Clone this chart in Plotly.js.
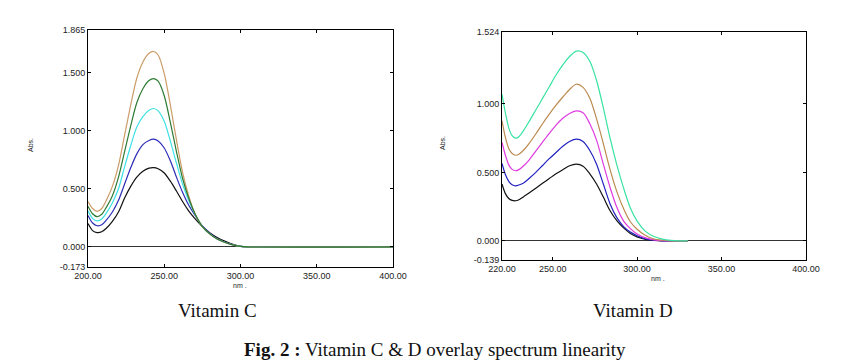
<!DOCTYPE html>
<html>
<head>
<meta charset="utf-8">
<script src="https://cdn.plot.ly/plotly-3.0.1.min.js"></script>
<style>html,body{margin:0;padding:0;background:#fff;}#chart{width:860px;height:362px;}</style>
</head>
<body>
<div id="chart"></div>
<script>
// ---- Vitamin C spectra (nm, Abs.) ----
var vcWavelength = [200,203,206,209,212,216,220,224,228,232,236,240,243,246,250,254,258,262,266,270,275,280,285,290,295,300,305,400];
var vcBlack = [0.20,0.14,0.123,0.13,0.16,0.22,0.30,0.42,0.52,0.60,0.65,0.677,0.682,0.672,0.635,0.565,0.48,0.39,0.31,0.245,0.175,0.12,0.078,0.047,0.022,0.005,0,0];
var vcBlue  = [0.27,0.205,0.182,0.19,0.23,0.30,0.40,0.54,0.68,0.80,0.88,0.915,0.926,0.91,0.85,0.74,0.60,0.47,0.36,0.275,0.18,0.115,0.068,0.04,0.018,0.004,0,0];
var vcCyan  = [0.31,0.245,0.224,0.24,0.29,0.38,0.50,0.69,0.87,1.03,1.12,1.175,1.19,1.17,1.08,0.91,0.72,0.54,0.40,0.285,0.175,0.11,0.065,0.038,0.017,0.004,0,0];
var vcTan   = [0.39,0.33,0.305,0.33,0.40,0.52,0.70,0.96,1.22,1.45,1.59,1.665,1.68,1.65,1.49,1.22,0.92,0.64,0.44,0.29,0.175,0.11,0.065,0.038,0.017,0.004,0,0];
var vcGreen = [0.35,0.285,0.26,0.28,0.34,0.44,0.60,0.82,1.04,1.24,1.36,1.43,1.447,1.425,1.30,1.07,0.82,0.59,0.42,0.29,0.175,0.11,0.065,0.038,0.017,0.004,0,0];

// ---- Vitamin D spectra (nm, Abs.) ----
var vdWavelength = [220,222,224,226,228,230,233,236,240,244,248,252,256,260,264,268,272,276,280,284,288,292,296,300,305,310,315,320,325,330];
var vdBlack   = [0.415,0.345,0.31,0.296,0.293,0.30,0.325,0.35,0.385,0.42,0.455,0.49,0.52,0.548,0.56,0.545,0.49,0.415,0.32,0.22,0.148,0.095,0.055,0.03,0.012,0.004,0.001,0,0,0];
var vdBlue    = [0.565,0.485,0.435,0.41,0.402,0.408,0.425,0.455,0.50,0.55,0.60,0.645,0.69,0.725,0.742,0.725,0.66,0.56,0.415,0.27,0.17,0.105,0.065,0.038,0.015,0.005,0.001,0,0,0];
var vdMagenta = [0.718,0.625,0.555,0.522,0.512,0.52,0.55,0.59,0.655,0.72,0.785,0.845,0.895,0.93,0.948,0.935,0.855,0.735,0.56,0.39,0.245,0.145,0.09,0.05,0.022,0.008,0.002,0,0,0];
var vdBrown   = [0.876,0.755,0.675,0.638,0.625,0.632,0.665,0.71,0.78,0.855,0.925,0.99,1.05,1.105,1.143,1.12,1.04,0.89,0.71,0.52,0.36,0.235,0.14,0.085,0.04,0.014,0.005,0.001,0,0];
var vdTeal    = [1.07,0.935,0.825,0.768,0.75,0.76,0.81,0.87,0.955,1.04,1.125,1.21,1.285,1.345,1.385,1.375,1.31,1.17,0.97,0.75,0.555,0.385,0.24,0.145,0.07,0.032,0.013,0.004,0.001,0];

// ---- tick labels ----
var vcXTicks = [200,250,300,350,400];
var vcXTickText = ['200.00','250.00','300.00','350.00','400.00'];
var vcYTicks = [-0.173,0,0.5,1,1.5,1.865];
var vcYTickText = ['-0.173','0.000','0.500','1.000','1.500','1.865'];
var vdXTicks = [220,250,300,350,400];
var vdXTickText = ['220.00','250.00','300.00','350.00','400.00'];
var vdYTicks = [-0.139,0,0.5,1,1.524];
var vdYTickText = ['-0.139','0.000','0.500','1.000','1.524'];

function tr(x, y, color, xa, ya) {
  return {x: x, y: y, type: 'scatter', mode: 'lines', xaxis: xa, yaxis: ya,
          line: {color: color, width: 1.2, shape: 'spline', smoothing: 0.8},
          hoverinfo: 'skip', showlegend: false};
}

var data = [
  tr(vcWavelength, vcBlack, '#111111', 'x', 'y'),
  tr(vcWavelength, vcBlue, '#2c2cb8', 'x', 'y'),
  tr(vcWavelength, vcCyan, '#3ee0e6', 'x', 'y'),
  tr(vcWavelength, vcTan, '#cc9c68', 'x', 'y'),
  tr(vcWavelength, vcGreen, '#2e7a34', 'x', 'y'),
  tr(vdWavelength, vdBlack, '#111111', 'x2', 'y2'),
  tr(vdWavelength, vdBlue, '#2222c0', 'x2', 'y2'),
  tr(vdWavelength, vdMagenta, '#e03ae0', 'x2', 'y2'),
  tr(vdWavelength, vdBrown, '#bb8a50', 'x2', 'y2'),
  tr(vdWavelength, vdTeal, '#38e2a2', 'x2', 'y2')
];

var tickFont = {family: 'Liberation Sans, Arial, sans-serif', size: 9, color: '#222'};
function xAx(domain, range, vals, text, anchor) {
  return {domain: domain, range: range, anchor: anchor, tickmode: 'array', tickvals: vals, ticktext: text,
          showline: true, linecolor: '#000', linewidth: 1, mirror: 'ticks', ticks: 'inside', ticklen: 3,
          tickcolor: '#000', showgrid: false, zeroline: false, tickfont: tickFont, fixedrange: true};
}
function yAx(domain, range, vals, text, anchor) {
  return {domain: domain, range: range, anchor: anchor, tickmode: 'array', tickvals: vals, ticktext: text,
          showline: true, linecolor: '#000', linewidth: 1, mirror: 'ticks', ticks: 'inside', ticklen: 3,
          tickcolor: '#000', showgrid: false, zeroline: true, zerolinecolor: '#333', zerolinewidth: 1,
          tickfont: tickFont, fixedrange: true};
}

var smallFont = {family: 'Liberation Sans, Arial, sans-serif', size: 7, color: '#222'};
var serif = {family: 'Liberation Serif, Times New Roman, serif', size: 19, color: '#111'};

var layout = {
  width: 860, height: 362,
  margin: {l: 0, r: 0, t: 0, b: 0},
  paper_bgcolor: '#fff', plot_bgcolor: '#fff',
  showlegend: false,
  xaxis: xAx([88/860, 393/860], [200, 400], vcXTicks, vcXTickText, 'y'),
  yaxis: yAx([1 - 267/362, 1 - 30/362], [-0.173, 1.865], vcYTicks, vcYTickText, 'x'),
  xaxis2: xAx([502/860, 806/860], [220, 400], vdXTicks, vdXTickText, 'y2'),
  yaxis2: yAx([1 - 260/362, 1 - 32/362], [-0.139, 1.524], vdYTicks, vdYTickText, 'x2'),
  annotations: [
    {text: 'Abs.', xref: 'paper', yref: 'paper', x: 30/860, y: 1 - 145/362, textangle: -90, showarrow: false, font: smallFont, xanchor: 'center', yanchor: 'middle'},
    {text: 'Abs.', xref: 'paper', yref: 'paper', x: 443/860, y: 1 - 143/362, textangle: -90, showarrow: false, font: smallFont, xanchor: 'center', yanchor: 'middle'},
    {text: 'nm .', xref: 'paper', yref: 'paper', x: 240/860, y: 1 - 285/362, showarrow: false, font: smallFont, xanchor: 'center', yanchor: 'middle'},
    {text: 'nm .', xref: 'paper', yref: 'paper', x: 658/860, y: 1 - 278/362, showarrow: false, font: smallFont, xanchor: 'center', yanchor: 'middle'},
    {text: 'Vitamin C', xref: 'paper', yref: 'paper', x: 217/860, y: 1 - 310/362, showarrow: false, font: serif, xanchor: 'center', yanchor: 'middle'},
    {text: 'Vitamin D', xref: 'paper', yref: 'paper', x: 633/860, y: 1 - 310/362, showarrow: false, font: serif, xanchor: 'center', yanchor: 'middle'},
    {text: '<b>Fig. 2 :</b> Vitamin C &amp; D overlay spectrum linearity', xref: 'paper', yref: 'paper', x: 435/860, y: 1 - 349/362, showarrow: false, font: serif, xanchor: 'center', yanchor: 'middle'}
  ]
};

Plotly.newPlot('chart', data, layout, {displayModeBar: false, staticPlot: true});
</script>
</body>
</html>
